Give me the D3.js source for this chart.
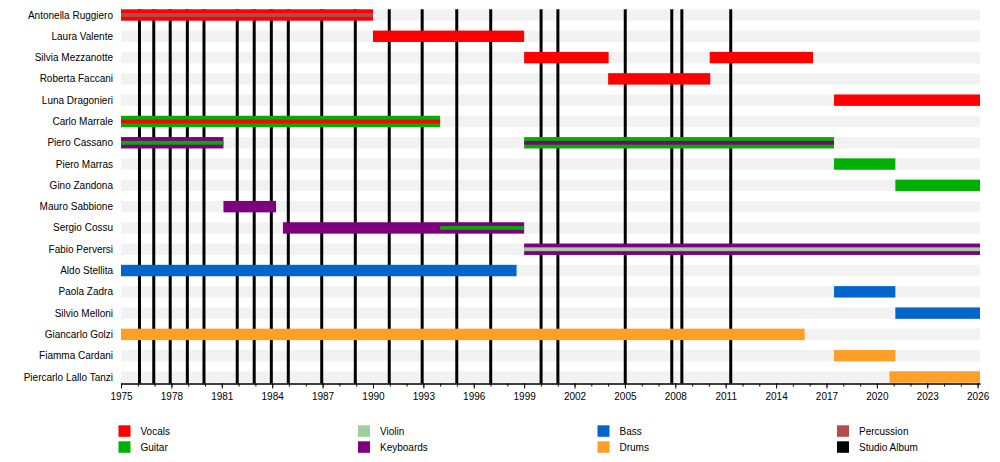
<!DOCTYPE html>
<html>
<head>
  <script src="https://cdnjs.cloudflare.com/ajax/libs/d3/7.8.5/d3.min.js"></script>
  <style>
    body {
      margin: 0;
      background: white;
      font-family: "Liberation Sans", Arial, sans-serif;
    }
    .name-label, .legend-label, .tick text {
      font-family: "Liberation Sans", Arial, sans-serif;
      font-size: 10px;
      fill: black;
    }
  </style>
</head>
<body>
  <div id="chart"></div>

  <script>
    // Band members, top to bottom
    const members = [
      "Antonella Ruggiero", "Laura Valente", "Silvia Mezzanotte", "Roberta Faccani",
      "Luna Dragonieri", "Carlo Marrale", "Piero Cassano", "Piero Marras",
      "Gino Zandona", "Mauro Sabbione", "Sergio Cossu", "Fabio Perversi",
      "Aldo Stellita", "Paola Zadra", "Silvio Melloni", "Giancarlo Golzi",
      "Fiamma Cardani", "Piercarlo Lallo Tanzi"
    ];

    const roles = ["Vocals", "Guitar", "Violin", "Keyboards", "Bass", "Drums", "Percussion", "Studio Album"];

    const timelineStart = 1975;
    const timelineEnd = 2026.14;

    // Main membership bars
    const mainBars = [
      { name: "Antonella Ruggiero", role: "Vocals", from: 1975, to: 1990 },
      { name: "Laura Valente", role: "Vocals", from: 1990, to: 1999 },
      { name: "Silvia Mezzanotte", role: "Vocals", from: 1999, to: 2004.03 },
      { name: "Silvia Mezzanotte", role: "Vocals", from: 2010.05, to: 2016.2 },
      { name: "Roberta Faccani", role: "Vocals", from: 2004, to: 2010.08 },
      { name: "Luna Dragonieri", role: "Vocals", from: 2017.45, to: timelineEnd },
      { name: "Carlo Marrale", role: "Guitar", from: 1975, to: 1994 },
      { name: "Piero Cassano", role: "Keyboards", from: 1975, to: 1981.1 },
      { name: "Piero Cassano", role: "Guitar", from: 1999, to: 2017.45 },
      { name: "Piero Marras", role: "Guitar", from: 2017.45, to: 2021.1 },
      { name: "Gino Zandona", role: "Guitar", from: 2021.1, to: timelineEnd },
      { name: "Mauro Sabbione", role: "Keyboards", from: 1981.1, to: 1984.23 },
      { name: "Sergio Cossu", role: "Keyboards", from: 1984.64, to: 1999 },
      { name: "Fabio Perversi", role: "Keyboards", from: 1999, to: timelineEnd },
      { name: "Aldo Stellita", role: "Bass", from: 1975, to: 1998.55 },
      { name: "Paola Zadra", role: "Bass", from: 2017.45, to: 2021.1 },
      { name: "Silvio Melloni", role: "Bass", from: 2021.1, to: timelineEnd },
      { name: "Giancarlo Golzi", role: "Drums", from: 1975, to: 2015.7 },
      { name: "Fiamma Cardani", role: "Drums", from: 2017.45, to: 2021.1 },
      { name: "Piercarlo Lallo Tanzi", role: "Drums", from: 2020.75, to: timelineEnd }
    ];

    // Secondary roles, drawn as a thin stripe inside the bar
    const stripeBars = [
      { name: "Antonella Ruggiero", role: "Percussion", from: 1975, to: 1990 },
      { name: "Carlo Marrale", role: "Vocals", from: 1975, to: 1994 },
      { name: "Piero Cassano", role: "Guitar", from: 1975, to: 1981.1 },
      { name: "Piero Cassano", role: "Keyboards", from: 1999, to: 2017.45 },
      { name: "Sergio Cossu", role: "Guitar", from: 1994, to: 1999 },
      { name: "Fabio Perversi", role: "Violin", from: 1999, to: timelineEnd }
    ];

    // Studio album release dates
    const albums = [
      1976.1, 1976.95, 1977.93, 1978.95, 1979.94, 1981.92, 1982.93, 1983.95,
      1984.96, 1986.95, 1988.95, 1990.97, 1992.93, 1994.99, 1997.01, 2000.01,
      2001.01, 2005.02, 2007.79, 2008.39, 2011.3
    ];

    const colors = {
      "Vocals": "#ff0000",
      "Guitar": "#00b000",
      "Violin": "#a0cf9f",
      "Keyboards": "#7f007f",
      "Bass": "#0066cc",
      "Drums": "#ff9f27",
      "Percussion": "#b34c4c",
      "Studio Album": "#000000"
    };

    const width = 1000;
    const height = 462;
    const barH = 11.4;
    const stripeH = 3.8;

    const svg = d3.select("#chart")
      .append("svg")
      .attr("width", width)
      .attr("height", height);

    const x = d3.scaleLinear()
      .domain([timelineStart, timelineEnd])
      .range([121, 980]);

    const y = d3.scalePoint()
      .domain(members)
      .range([15, 377]);

    const axisY = 383.5;

    // Row background bands
    svg.append("g")
      .selectAll("rect")
      .data(members)
      .enter()
      .append("rect")
      .attr("x", x(timelineStart))
      .attr("width", x(timelineEnd) - x(timelineStart))
      .attr("y", d => y(d) - barH / 2)
      .attr("height", barH)
      .attr("fill", "#f2f2f2");

    // Album lines
    svg.append("g")
      .selectAll("line")
      .data(albums)
      .enter()
      .append("line")
      .attr("x1", d => x(d))
      .attr("x2", d => x(d))
      .attr("y1", y(members[0]) - barH / 2)
      .attr("y2", axisY)
      .attr("stroke", colors["Studio Album"])
      .attr("stroke-width", 3);

    // Bars
    svg.append("g")
      .selectAll("rect")
      .data(mainBars)
      .enter()
      .append("rect")
      .attr("x", d => x(d.from))
      .attr("width", d => x(d.to) - x(d.from))
      .attr("y", d => y(d.name) - barH / 2)
      .attr("height", barH)
      .attr("fill", d => colors[d.role]);

    svg.append("g")
      .selectAll("rect")
      .data(stripeBars)
      .enter()
      .append("rect")
      .attr("x", d => x(d.from))
      .attr("width", d => x(d.to) - x(d.from))
      .attr("y", d => y(d.name) - stripeH / 2)
      .attr("height", stripeH)
      .attr("fill", d => colors[d.role]);

    // Member names
    svg.append("g")
      .selectAll("text")
      .data(members)
      .enter()
      .append("text")
      .attr("class", "name-label")
      .attr("x", 113)
      .attr("y", d => y(d) + 3.5)
      .attr("text-anchor", "end")
      .text(d => d);

    // Axis: yearly minor ticks, labelled every 3 years
    const years = d3.range(1975, 2027);
    const minorAxis = d3.axisBottom(x)
      .tickValues(years)
      .tickSize(3)
      .tickSizeOuter(0)
      .tickFormat("");
    const majorAxis = d3.axisBottom(x)
      .tickValues(years.filter(yr => (yr - 1975) % 3 === 0))
      .tickSize(5)
      .tickSizeOuter(0)
      .tickPadding(4)
      .tickFormat(d3.format("d"));

    svg.append("g")
      .attr("transform", `translate(0,${axisY})`)
      .call(minorAxis);
    svg.append("g")
      .attr("transform", `translate(0,${axisY})`)
      .call(majorAxis)
      .call(g => g.selectAll(".tick text").attr("font-size", null).attr("font-family", null));

    // Legend
    const legendCol = d3.scalePoint().domain([0, 1, 2, 3]).range([118.5, 837]);
    const legend = svg.append("g")
      .selectAll("g")
      .data(roles)
      .enter()
      .append("g")
      .attr("transform", (d, i) => `translate(${legendCol(Math.floor(i / 2))},${425.3 + (i % 2) * 16})`);

    legend.append("rect")
      .attr("width", 12)
      .attr("height", 11.5)
      .attr("fill", d => colors[d]);

    legend.append("text")
      .attr("class", "legend-label")
      .attr("x", 22)
      .attr("y", 9.5)
      .text(d => d);
  </script>
</body>
</html>
